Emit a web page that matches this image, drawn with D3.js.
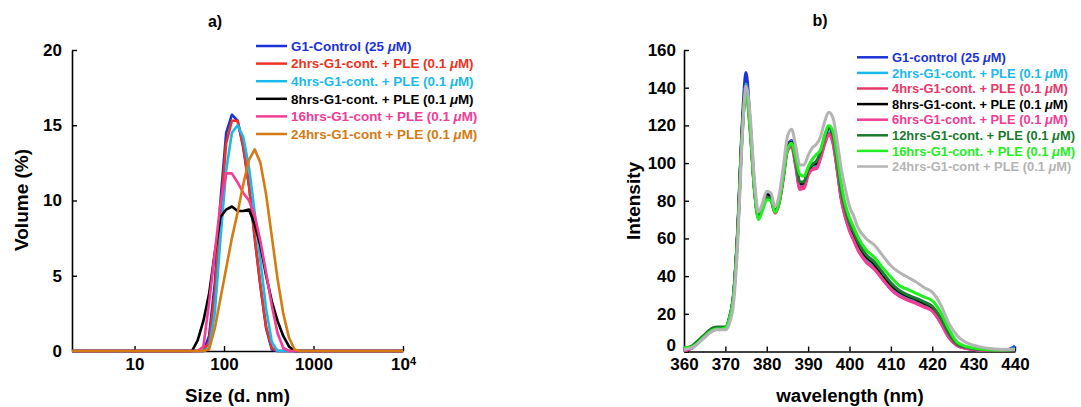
<!DOCTYPE html>
<html>
<head>
<meta charset="utf-8">
<script src="https://cdn.jsdelivr.net/npm/d3@7"></script>
<style>
  body { margin: 0; background: #fff; }
  svg { display: block; }
  text { font-family: "Liberation Sans", Arial, Helvetica, sans-serif; font-weight: bold; }
</style>
</head>
<body>
<svg id="chart" width="1081" height="407"></svg>
<script>
// ---- panel a) : DLS size distribution ----
var sizes = [2, 43.82, 50.75, 58.77, 68.06, 78.82, 91.28, 105.7, 122.4, 141.8, 164.2,
  190.1, 220.2, 255.0, 295.3, 342.0, 396.1, 458.7, 531.2, 615.1, 712.4, 10000];
var volControl = [0, 0, 0, 0, 1.0, 4.5, 10, 14.5, 15.7, 15.3, 13.5, 11, 7.5, 4.3, 1.5, 0.1, 0, 0, 0, 0, 0, 0];
var vol2h  = [0, 0, 0, 0, 0.6, 3.8, 9.2, 13.8, 15.3, 15.3, 13.6, 11.0, 7.6, 4.4, 1.6, 0.2, 0, 0, 0, 0, 0, 0];
var vol4h  = [0, 0, 0, 0, 0.2, 2.5, 7.5, 12, 14.5, 15.0, 14.2, 12.2, 9.2, 6, 2.8, 0.6, 0, 0, 0, 0, 0, 0];
var vol8h  = [0, 0, 0.7, 2.0, 3.8, 6.5, 8.9, 9.4, 9.6, 9.3, 9.3, 9.4, 8.4, 7.0, 5.0, 3.3, 2.0, 1.0, 0.3, 0, 0, 0];
var vol16h = [0, 0, 0, 0.3, 3.2, 6.5, 9.8, 11.8, 11.8, 11.2, 10.5, 10.0, 9.0, 7.3, 5.2, 3.0, 1.2, 0.2, 0, 0, 0, 0];
var vol24h = [0, 0, 0, 0, 0.1, 1.5, 3.5, 5.5, 7.5, 9.2, 11.1, 12.7, 13.4, 12.5, 10.4, 7.6, 4.8, 2.5, 0.9, 0.1, 0, 0];
var sizeTicks = [10, 100, 1000, 10000];
var volTicks = [0, 5, 10, 15, 20];

var seriesA = [
  { name: "G1-Control (25 ", color: "#1b33d6", values: volControl },
  { name: "2hrs-G1-cont. + PLE (0.1 ", color: "#ee3322", values: vol2h },
  { name: "4hrs-G1-cont. + PLE (0.1 ", color: "#1ab9ec", values: vol4h },
  { name: "8hrs-G1-cont. + PLE (0.1 ", color: "#000000", values: vol8h },
  { name: "16hrs-G1-cont + PLE (0.1 ", color: "#f23c96", values: vol16h },
  { name: "24hrs-G1-cont + PLE (0.1 ", color: "#d67a12", values: vol24h }
];

// ---- panel b) : fluorescence spectra ----
var wavelengths = [360, 361, 362, 363, 364, 365, 366, 367, 368, 369,
  370, 371, 372, 373, 374, 375, 376, 377, 378, 379,
  380, 381, 382, 383, 384, 385, 386, 387, 388, 389,
  390, 391, 392, 393, 394, 395, 396, 397, 398, 399,
  400, 401, 402,
  404, 406, 408, 410, 412, 414, 416, 418, 420, 422, 424, 426, 428, 430, 432, 434, 436, 438,
  439, 440];
var intControl = [0.5, 1, 2, 4, 6, 8, 10, 11.5, 12, 12,
  12.5, 18, 31, 66, 118, 148, 121, 88, 72, 78,
  84, 82, 74.5, 80, 94, 109, 112, 101, 88, 89.5,
  96, 98.5, 99.5, 105, 112, 116.5, 112, 98, 82, 72,
  65, 60.5, 55.5,
  48.5, 44.5, 39, 33.5, 30, 28, 26.3, 24.3, 22, 16, 8, 3.5, 1.8, 1.1, 0.7, 0.5, 0.5, 0.8,
  1.5, 3];
var int2h = [0.5, 1, 2, 4, 6, 8, 10, 11.5, 12, 12,
  12.5, 18, 31, 65, 116, 142, 119, 87, 71.5, 77.5,
  83, 81.5, 74, 79.5, 93, 108.5, 111.5, 100.5, 88, 89,
  95.5, 98, 98.5, 104.5, 111.5, 116.5, 112, 98, 82, 72.5,
  65.5, 60.5, 55.5,
  48.7, 44.7, 39.2, 33.8, 30.2, 28, 26.3, 24.3, 22.2, 16, 8, 3.5, 2, 1.2, 0.8, 0.6, 0.6, 0.8,
  1.2, 2];
var int4h = [0.5, 1, 2, 3.8, 5.8, 7.8, 9.8, 11.2, 11.8, 11.8,
  12, 17.5, 30, 64, 114, 139, 118, 86.5, 71, 77,
  82.5, 81, 73.5, 79, 92, 107, 109.5, 99, 87, 87.5,
  94, 97, 97.5, 103, 110.5, 115.5, 111, 97, 81, 71.5,
  64.5, 59.5, 54.5,
  47.8, 44, 38.5, 33.2, 29.6, 27.5, 25.8, 23.8, 21.7, 15.5, 7.6, 3.2, 1.8, 1.1, 0.7, 0.5, 0.5, 0.7,
  0.9, 1.2];
var int8h = [1, 1.5, 2.5, 4.5, 6.5, 8.5, 10.5, 12, 12.5, 12.5,
  12.5, 18, 30.5, 65, 115, 141, 120, 87.5, 71.5, 77.5,
  83, 81.5, 74, 79.5, 93, 108.5, 111, 100.5, 89, 89.5,
  96, 99, 100, 105.5, 113.5, 119, 114.5, 100, 84, 74,
  67, 62.5, 57.5,
  50.5, 46.5, 41, 35.5, 31.8, 29.5, 27.8, 25.7, 23.5, 17.2, 9, 3.9, 2.2, 1.4, 1, 0.7, 0.7, 0.8,
  1, 1.2];
var int6h = [0.5, 1, 2, 3.8, 5.8, 7.8, 9.8, 11.2, 11.8, 11.8,
  12, 17.5, 30, 63.5, 113, 138, 117, 86, 71, 76.5,
  82, 80.5, 73.5, 78.5, 91.5, 106.5, 108.5, 98, 86, 86.5,
  93.5, 96.5, 97, 102.5, 110, 115, 110.5, 96.5, 80.5, 71,
  64, 59, 54,
  47.5, 43.6, 38.2, 33, 29.4, 27.3, 25.6, 23.6, 21.5, 15.3, 7.4, 3.1, 1.7, 1, 0.7, 0.5, 0.5, 0.7,
  0.9, 1];
var int12h = [2, 2.2, 3, 5, 7, 9, 11, 12.5, 13, 13,
  13, 18, 30, 64, 114, 140, 119, 87, 71, 77,
  82, 81, 74, 79.5, 93, 108, 110.5, 101, 90, 90,
  96.5, 99.5, 101, 106, 114, 119, 115, 101, 85, 75,
  68, 63.5, 58.5,
  51.5, 47.5, 42, 36.5, 32.5, 30, 28.3, 26.3, 24, 18, 9.5, 4, 2.3, 1.5, 1, 0.8, 0.8, 0.8,
  0.9, 1];
var int16h = [2, 2, 2.5, 4, 6, 8, 10, 11.5, 12, 12,
  12.5, 18, 30, 63, 112, 136, 117, 86, 70, 75,
  80.5, 80, 74, 79, 93, 107, 110.5, 103, 94, 93,
  98, 102, 104.5, 107, 115, 120, 117, 104, 89, 78,
  71, 66, 61,
  54, 50, 44.5, 39.5, 35, 33, 31, 29, 27, 21, 12, 5, 2.8, 1.8, 1.2, 0.9, 0.8, 0.8,
  0.9, 1];
var int24h = [1, 1.5, 2, 3.5, 5.5, 7.5, 9.5, 11, 11.5, 11.5,
  11.5, 15, 26, 58, 110, 141, 125, 92, 74, 79,
  85, 84, 77, 83, 98, 114, 118, 109, 99, 99,
  104, 108, 110, 114, 122, 127, 124, 112, 97, 86,
  77, 72, 66,
  60, 56.5, 51, 45.5, 42, 39.5, 37, 34, 31.5, 25, 15, 8.5, 5, 3.3, 2.2, 1.6, 1.2, 1,
  1, 1];
var wlTicks = [360, 370, 380, 390, 400, 410, 420, 430, 440];
var intTicks = [0, 20, 40, 60, 80, 100, 120, 140, 160];

var seriesB = [
  { name: "G1-control (25 ", color: "#1b33d6", values: intControl },
  { name: "2hrs-G1-cont. + PLE (0.1 ", color: "#1ab9ec", values: int2h },
  { name: "4hrs-G1-cont. + PLE (0.1 ", color: "#e8386a", values: int4h },
  { name: "8hrs-G1-cont. + PLE (0.1 ", color: "#000000", values: int8h },
  { name: "6hrs-G1-cont. + PLE (0.1 ", color: "#f23c96", values: int6h },
  { name: "12hrs-G1-cont. + PLE (0.1 ", color: "#1a7a2e", values: int12h },
  { name: "16hrs-G1-cont. + PLE (0.1 ", color: "#22ee22", values: int16h },
  { name: "24hrs-G1-cont + PLE (0.1 ", color: "#b4b4b4", values: int24h }
];

var svg = d3.select("#chart");
svg.append("rect").attr("width", 1081).attr("height", 407).attr("fill", "#fff");

function styleAxis(g) {
  g.select(".domain").attr("stroke", "#000").attr("stroke-width", 1.6);
  g.selectAll(".tick line").attr("stroke", "#000").attr("stroke-width", 1.4);
  g.selectAll(".tick text").attr("fill", "#000")
    .style("font-size", "17px").style("font-family", "Liberation Sans, Arial, sans-serif")
    .style("font-weight", "bold");
}

function drawLegend(series, x0, y0, step, fontSize) {
  var lg = svg.append("g").attr("transform", "translate(" + x0 + "," + y0 + ")");
  series.forEach(function(s, i) {
    var row = lg.append("g").attr("transform", "translate(0," + (i * step) + ")");
    row.append("line").attr("x1", 0).attr("x2", 31).attr("y1", 0).attr("y2", 0)
      .attr("stroke", s.color).attr("stroke-width", 2.5);
    var t = row.append("text").attr("x", 35).attr("dy", "0.36em")
      .attr("fill", s.color).style("font-size", fontSize + "px");
    t.append("tspan").text(s.name);
    t.append("tspan").style("font-style", "italic").text("\u03bc");
    t.append("tspan").text("M)");
  });
}

// ---- draw panel a ----
var xA = d3.scaleLog().domain([2, 10000]).range([72, 403]);
var yA = d3.scaleLinear().domain([0, 20]).range([351, 50]);

var gxA = svg.append("g").attr("transform", "translate(0," + yA(0) + ")")
  .call(d3.axisBottom(xA).tickValues(sizeTicks).tickSizeInner(-5).tickSizeOuter(0)
    .tickPadding(7).tickFormat(function(d) { return d === 10000 ? "10" : d3.format("d")(d); }));
styleAxis(gxA);
gxA.selectAll(".tick text").filter(function(d) { return d === 10000; })
  .append("tspan").attr("dy", "-0.45em").style("font-size", "11px").text("4");

var gyA = svg.append("g").attr("transform", "translate(" + xA(2) + ",0)")
  .call(d3.axisLeft(yA).tickValues(volTicks).tickSizeInner(-5).tickSizeOuter(0).tickPadding(10));
styleAxis(gyA);

var lineA = d3.line()
  .x(function(d, i) { return xA(sizes[i]); })
  .y(function(d) { return yA(d); });

svg.append("g").selectAll("path").data(seriesA).join("path")
  .attr("d", function(s) { return lineA(s.values); })
  .attr("fill", "none")
  .attr("stroke", function(s) { return s.color; })
  .attr("stroke-width", 2.6)
  .attr("stroke-linejoin", "round");

svg.append("text").attr("x", 215).attr("y", 27).attr("text-anchor", "middle")
  .style("font-size", "16px").text("a)");
svg.append("text").attr("x", 237.5).attr("y", 402).attr("text-anchor", "middle")
  .style("font-size", "18.7px").text("Size (d. nm)");
svg.append("text").attr("transform", "translate(28,200) rotate(-90)").attr("text-anchor", "middle")
  .style("font-size", "19px").text("Volume (%)");

drawLegend(seriesA, 256, 46, 17.6, 13.4);

// ---- draw panel b ----
var xB = d3.scaleLinear().domain([360, 440]).range([684, 1015]);
var yB = d3.scaleLinear().domain([0, 160]).range([351.5, 50]);

var gxB = svg.append("g").attr("transform", "translate(0," + yB(0) + ")")
  .call(d3.axisBottom(xB).tickValues(wlTicks).tickSizeInner(-5).tickSizeOuter(0).tickPadding(6));
styleAxis(gxB);

var gyB = svg.append("g").attr("transform", "translate(" + xB(360) + ",0)")
  .call(d3.axisLeft(yB).tickValues(intTicks).tickSizeInner(-5).tickSizeOuter(0).tickPadding(8));
styleAxis(gyB);
// lift the "0" so it sits just above the "360" below it
gyB.selectAll(".tick text").filter(function(d) { return d === 0; }).attr("dy", "-0.05em");

var lineB = d3.line()
  .x(function(d, i) { return xB(wavelengths[i]); })
  .y(function(d) { return yB(d); })
  .curve(d3.curveMonotoneX);

svg.append("g").selectAll("path").data(seriesB).join("path")
  .attr("d", function(s) { return lineB(s.values); })
  .attr("fill", "none")
  .attr("stroke", function(s) { return s.color; })
  .attr("stroke-width", 3)
  .attr("stroke-linejoin", "round");

svg.append("text").attr("x", 820).attr("y", 26).attr("text-anchor", "middle")
  .style("font-size", "16px").text("b)");
svg.append("text").attr("x", 850).attr("y", 402).attr("text-anchor", "middle")
  .style("font-size", "18.7px").text("wavelength (nm)");
svg.append("text").attr("transform", "translate(640,201) rotate(-90)").attr("text-anchor", "middle")
  .style("font-size", "19px").text("Intensity");

drawLegend(seriesB, 857, 57.3, 15.6, 12.9);
</script>
</body>
</html>
